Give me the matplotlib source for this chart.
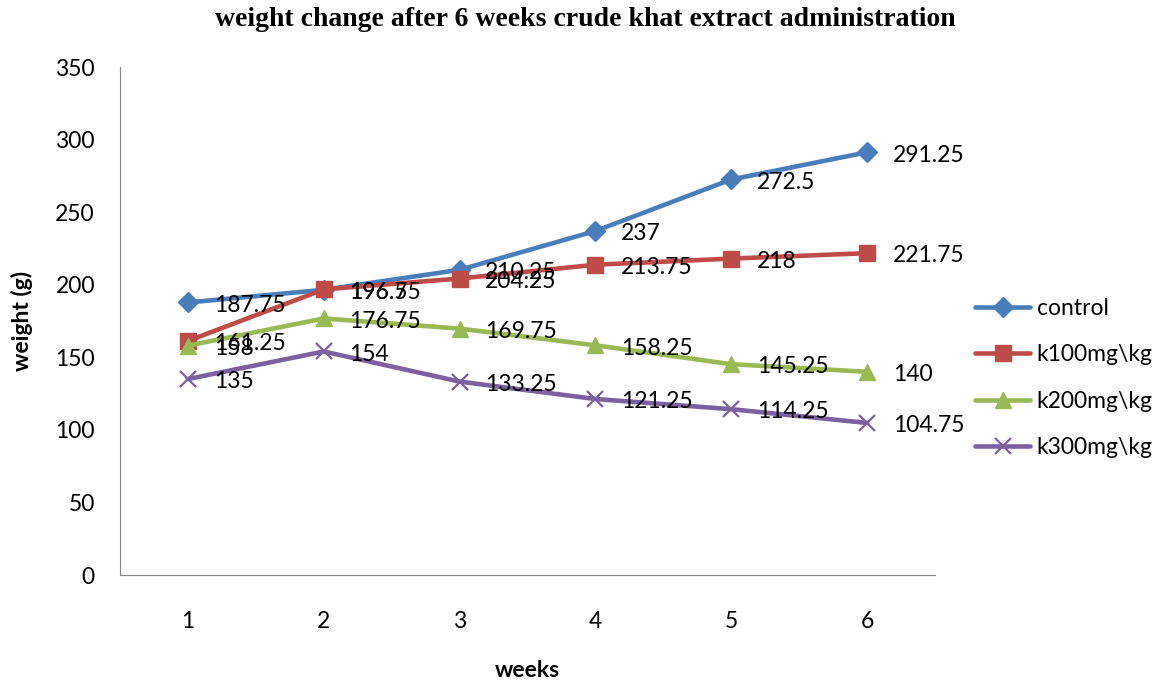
import matplotlib.pyplot as plt

# Data
weeks = [1, 2, 3, 4, 5, 6]
control = [187.75, 196.5, 210.25, 237, 272.5, 291.25]
k100 = [161.25, 196.75, 204.25, 213.75, 218, 221.75]
k200 = [158, 176.75, 169.75, 158.25, 145.25, 140]
k300 = [135, 154, 133.25, 121.25, 114.25, 104.75]
series_names = ['control', 'k100mg\\kg', 'k200mg\\kg', 'k300mg\\kg']
y_ticks = [0, 50, 100, 150, 200, 250, 300, 350]

colors = ['#4A7EBB', '#BE4B48', '#98B954', '#7D60A0']
markers = ['D', 's', '^', 'x']
msizes = [10.5, 12, 12, 12]

plt.rcParams['font.family'] = ['Lato', 'DejaVu Sans']
fs = 16.5

fig = plt.figure(figsize=(11.71, 6.84), dpi=100)
ax = fig.add_axes([120 / 1171, 1 - 575 / 684, 815 / 1171, 508 / 684])

for vals, name, c, m, ms in zip([control, k100, k200, k300], series_names, colors, markers, msizes):
    ax.plot(weeks, vals, color=c, lw=3.3, marker=m, markersize=ms,
            markeredgewidth=1.6 if m == 'x' else 1, markeredgecolor=c,
            label=name, solid_capstyle='round')
    for x, v in zip(weeks, vals):
        ax.annotate(f'{v:g}', (x, v), xytext=(18.5, -2), textcoords='offset points',
                    ha='left', va='center', fontsize=fs, color='black')

ax.set_xlim(0.5, 6.5)
ax.set_ylim(0, 350)
ax.set_xticks(weeks)
ax.set_yticks(y_ticks)
ax.tick_params(axis='both', length=0, labelsize=fs)
ax.tick_params(axis='x', pad=26)
ax.tick_params(axis='y', pad=18)
for s in ['top', 'right']:
    ax.spines[s].set_visible(False)
for s in ['left', 'bottom']:
    ax.spines[s].set_color('#888888')

ax.set_xlabel('weeks', fontsize=fs, fontweight='bold', labelpad=20)
ax.set_ylabel('weight (g)', fontsize=fs, fontweight='bold', labelpad=16)
fig.text(0.5, 1 - 19 / 684, 'weight change after 6 weeks crude khat extract administration',
         ha='center', va='center', fontsize=20, fontweight='bold', family='Liberation Serif')

ax.legend(loc='center left', bbox_to_anchor=((975 - 120) / 815, (575 - 378) / 508), frameon=False,
          fontsize=fs, handlelength=2.4, handletextpad=0.3, labelspacing=1.1,
          borderaxespad=0, borderpad=0)

fig.savefig('out.png', dpi=100)
